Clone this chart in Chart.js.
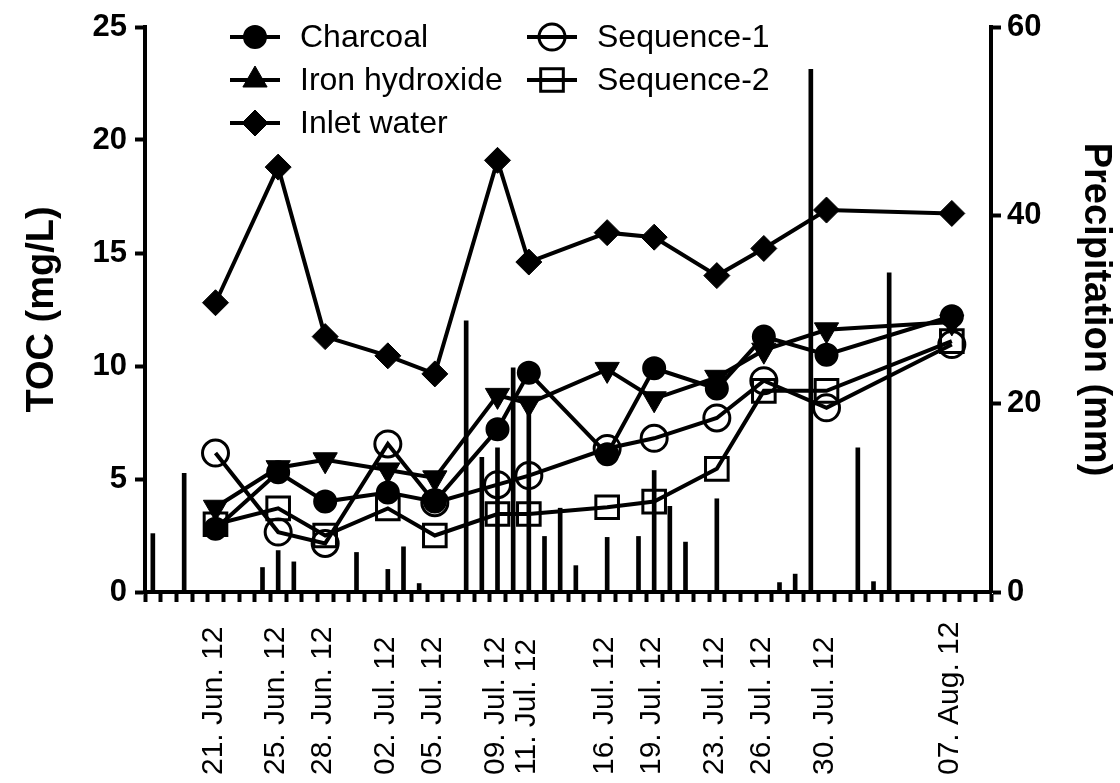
<!DOCTYPE html>
<html>
<head>
<meta charset="utf-8">
<script src="https://cdn.jsdelivr.net/npm/chart.js@4.4.1/dist/chart.umd.min.js"></script>
<style>
html,body{margin:0;padding:0;background:#fff;}
#wrap{width:1120px;height:783px;}
</style>
</head>
<body>
<div id="wrap"><canvas id="c" width="1120" height="783"></canvas></div>
<script>
// ---------------- data ----------------
const axisStart = '2012-06-17';
const axisEnd = '2012-08-09';
const sampleDates = ['2012-06-21','2012-06-25','2012-06-28','2012-07-02','2012-07-05','2012-07-09','2012-07-11','2012-07-16','2012-07-19','2012-07-23','2012-07-26','2012-07-30','2012-08-07'];
const dateLabels = ['21. Jun. 12','25. Jun. 12','28. Jun. 12','02. Jul. 12','05. Jul. 12','09. Jul. 12','11. Jul. 12','16. Jul. 12','19. Jul. 12','23. Jul. 12','26. Jul. 12','30. Jul. 12','07. Aug. 12'];
const charcoal      = [2.8, 5.3, 4.0, 4.4, 4.0, 7.2, 9.7, 6.1, 9.9, 9.0, 11.3, 10.5, 12.2];
const ironHydroxide = [3.75, 5.5, 5.85, 5.4, 5.05, 8.7, 8.35, 9.85, 8.55, 9.5, 10.7, 11.6, 11.95];
const inletWater    = [12.8, 18.8, 11.3, 10.45, 9.65, 19.1, 14.6, 15.9, 15.7, 14.0, 15.2, 16.9, 16.75];
const sequence1     = [6.15, 2.65, 2.15, 6.55, 3.95, 4.75, 5.15, 6.35, 6.8, 7.7, 9.35, 8.15, 10.95];
const sequence2     = [3.0, 3.7, 2.5, 3.7, 2.5, 3.45, 3.45, 3.75, 4.0, 5.45, 8.9, 8.9, 11.1];
const precipDates = ['2012-06-17','2012-06-19','2012-06-24','2012-06-25','2012-06-26','2012-06-30','2012-07-02','2012-07-03','2012-07-04','2012-07-07','2012-07-08','2012-07-09','2012-07-10','2012-07-11','2012-07-12','2012-07-13','2012-07-14','2012-07-16','2012-07-18','2012-07-19','2012-07-20','2012-07-21','2012-07-23','2012-07-27','2012-07-28','2012-07-29','2012-08-01','2012-08-02','2012-08-03'];
const precipMm    = [6.2, 12.6, 2.6, 4.4, 3.2, 4.2, 2.4, 4.8, 0.9, 28.8, 14.3, 15.3, 23.8, 20.4, 5.9, 8.9, 2.8, 5.8, 5.9, 12.9, 9.1, 5.3, 9.9, 1.0, 1.9, 55.5, 15.3, 1.1, 33.9];
const tocTicks = [0, 5, 10, 15, 20, 25];
const precipTicks = [0, 20, 40, 60];

// ---------------- helpers ----------------
const DAY = 86400000;
function utc(s){ const p = s.split('-').map(Number); return Date.UTC(p[0], p[1]-1, p[2]); }
function dayIndex(s){ return Math.round((utc(s) - utc(axisStart)) / DAY); }
const lastDay = dayIndex(axisEnd);
const dayTicks = [];
for (let d = 0; d <= lastDay; d++) dayTicks.push(d);

const FAMILY = '"Liberation Sans", Arial, Helvetica, sans-serif';
const toPts = (arr) => sampleDates.map((d, i) => ({x: dayIndex(d), y: arr[i]}));

function lineSet(label, arr, style, opts) {
  return Object.assign({
    type: 'line',
    label: label,
    data: toPts(arr),
    yAxisID: 'y',
    borderColor: '#000',
    borderWidth: 4,
    tension: 0,
    fill: false,
    pointStyle: style,
    pointBorderColor: '#000',
    pointBackgroundColor: '#000',
    pointHoverRadius: 0,
    clip: false
  }, opts);
}

const datasets = [
  lineSet('Charcoal', charcoal, 'circle', {pointRadius: 11, pointBorderWidth: 2}),
  lineSet('Iron hydroxide', ironHydroxide, 'triangle', {pointRadius: 14, pointBorderWidth: 1, pointRotation: 180}),
  lineSet('Inlet water', inletWater, 'rectRot', {pointRadius: 13, pointBorderWidth: 1}),
  lineSet('Sequence-1', sequence1, 'circle', {pointRadius: 13, pointBorderWidth: 3, pointBackgroundColor: 'rgba(0,0,0,0)'}),
  lineSet('Sequence-2', sequence2, 'rect', {pointRadius: 16, pointBorderWidth: 3, pointBackgroundColor: 'rgba(0,0,0,0)'}),
  {
    type: 'bar',
    label: 'Precipitation',
    data: precipDates.map((d, i) => ({x: dayIndex(d), y: precipMm[i]})),
    yAxisID: 'y1',
    backgroundColor: '#000',
    borderWidth: 0,
    barThickness: 4,
    order: 10
  }
];

// ---------------- custom legend (2 columns x 3 rows inside plot) ----------------
function drawMarker(ctx, style, x, y, r, bw, fill, rot) {
  ctx.save();
  ctx.lineWidth = bw;
  ctx.strokeStyle = '#000';
  ctx.fillStyle = fill;
  ctx.beginPath();
  if (style === 'circle') {
    ctx.arc(x, y, r, 0, Math.PI * 2);
  } else if (style === 'triangle') {
    let a = (rot || 0) * Math.PI / 180;
    ctx.moveTo(x + Math.sin(a) * r, y - Math.cos(a) * r);
    a += 2 * Math.PI / 3;
    ctx.lineTo(x + Math.sin(a) * r, y - Math.cos(a) * r);
    a += 2 * Math.PI / 3;
    ctx.lineTo(x + Math.sin(a) * r, y - Math.cos(a) * r);
    ctx.closePath();
  } else if (style === 'rectRot') {
    ctx.moveTo(x - r, y); ctx.lineTo(x, y - r); ctx.lineTo(x + r, y); ctx.lineTo(x, y + r); ctx.closePath();
  } else if (style === 'rect') {
    const s = Math.SQRT1_2 * r;
    ctx.rect(x - s, y - s, 2 * s, 2 * s);
  }
  ctx.fill();
  if (bw > 0) ctx.stroke();
  ctx.restore();
}

const legendPlugin = {
  id: 'gridLegend',
  afterDraw(chart) {
    const ctx = chart.ctx;
    const items = chart.data.datasets.filter(d => d.type === 'line');
    const colX = [255, 552];
    const rowY = [37, 80, 123];
    items.forEach((d, i) => {
      const col = Math.floor(i / 3), row = i % 3;
      const cx = colX[col], cy = rowY[row];
      ctx.save();
      ctx.strokeStyle = '#000';
      ctx.lineWidth = 4;
      ctx.beginPath();
      ctx.moveTo(cx - 25, cy); ctx.lineTo(cx + 25, cy);
      ctx.stroke();
      ctx.restore();
      drawMarker(ctx, d.pointStyle, cx, cy, d.pointRadius, d.pointBorderWidth, d.pointBackgroundColor, 0);
      ctx.save();
      ctx.fillStyle = '#000';
      ctx.font = '32px ' + FAMILY;
      ctx.textAlign = 'left';
      ctx.textBaseline = 'middle';
      ctx.fillText(d.label, cx + 45, cy + 1);
      ctx.restore();
    });
  }
};

// ---------------- date labels (rotated, start-aligned at the bottom) ----------------
const dateLabelPlugin = {
  id: 'dateLabels',
  afterDraw(chart) {
    const ctx = chart.ctx;
    const xs = chart.scales.x;
    ctx.save();
    ctx.fillStyle = '#000';
    ctx.font = '30px ' + FAMILY;
    ctx.textAlign = 'left';
    ctx.textBaseline = 'middle';
    sampleDates.forEach((d, i) => {
      const px = xs.getPixelForValue(dayIndex(d));
      ctx.save();
      ctx.translate(px - 2, 775);
      ctx.rotate(-Math.PI / 2);
      ctx.fillText(dateLabels[i], 0, 0);
      ctx.restore();
    });
    ctx.restore();
  }
};

const axisCommon = {
  grid: {drawOnChartArea: false, drawTicks: true, tickLength: 10, tickWidth: 4, tickColor: '#000'},
  border: {display: true, width: 4, color: '#000'}
};

new Chart(document.getElementById('c'), {
  data: {datasets: datasets},
  options: {
    responsive: false,
    animation: false,
    events: [],
    layout: {padding: {left: 0, right: 0, top: 27, bottom: 0}},
    plugins: {legend: {display: false}, tooltip: {enabled: false}},
    scales: {
      x: Object.assign({}, axisCommon, {
        type: 'linear',
        position: 'bottom',
        min: -0.5,
        max: lastDay + 0.5,
        offset: false,
        ticks: {display: false},
        afterBuildTicks: (s) => { s.ticks = dayTicks.map(v => ({value: v})); },
        afterFit: (s) => { s.height = 191; }
      }),
      y: Object.assign({}, axisCommon, {
        type: 'linear',
        position: 'left',
        min: 0,
        max: 25,
        afterBuildTicks: (s) => { s.ticks = tocTicks.map(v => ({value: v})); },
        ticks: {color: '#000', padding: 8, font: {family: FAMILY, size: 31, weight: 'bold'}},
        title: {display: true, text: 'TOC (mg/L)', color: '#000', font: {family: FAMILY, size: 38, weight: 'bold'}, padding: {top: 20, bottom: 0}},
        afterFit: (s) => { s.width = 145; }
      }),
      y1: Object.assign({}, axisCommon, {
        type: 'linear',
        position: 'right',
        min: 0,
        max: 60,
        afterBuildTicks: (s) => { s.ticks = precipTicks.map(v => ({value: v})); },
        ticks: {color: '#000', padding: 6, font: {family: FAMILY, size: 31, weight: 'bold'}},
        title: {display: true, text: 'Precipitation (mm)', color: '#000', font: {family: FAMILY, size: 38, weight: 'bold'}, padding: {top: 2, bottom: 0}},
        afterFit: (s) => { s.width = 1120 - 991; }
      })
    }
  },
  plugins: [legendPlugin, dateLabelPlugin]
});
</script>
</body>
</html>
